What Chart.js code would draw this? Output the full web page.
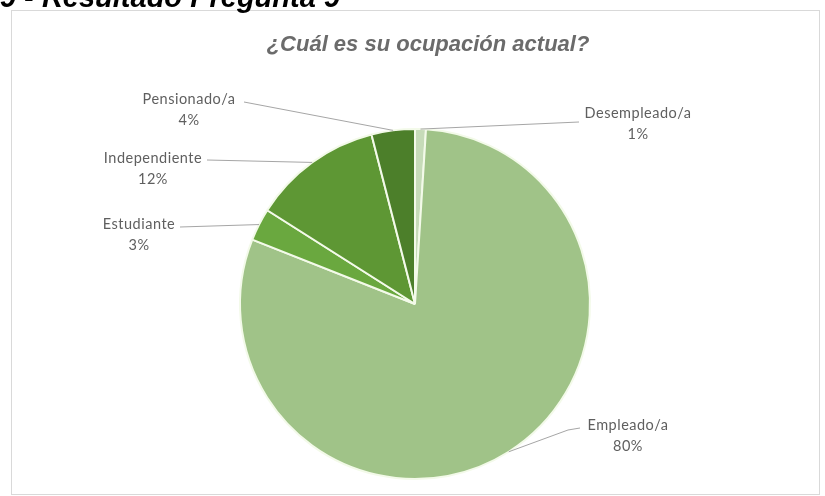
<!DOCTYPE html>
<html>
<head>
    <meta charset="utf-8" />
    <title>¿Cuál es su ocupación actual?</title>
    <script src="https://cdn.jsdelivr.net/npm/chart.js@4"></script>
    <style>
        html, body { margin: 0; padding: 0; background: #fff; }
        #wrap { position: relative; width: 825px; height: 496px; overflow: hidden; }
    </style>
</head>
<body>
    <div id="wrap">
        <canvas id="ocupacionChart" width="825" height="496"></canvas>
    </div>

    <script>
        // Data
        const categories = ['Desempleado/a', 'Empleado/a', 'Estudiante', 'Independiente', 'Pensionado/a'];
        const shares = [1, 80, 3, 12, 4];
        const pctLabels = ['1%', '80%', '3%', '12%', '4%'];
        const sliceColors = ['#c6dbb8', '#a0c388', '#6aa83f', '#5e9734', '#4c7f2a'];

        const chartTitle = '¿Cuál es su ocupación actual?';
        const caption = '9 - Resultado Pregunta 9';

        // where each data label sits (text centre of first line) and where its leader line leaves the text
        const labelLayout = [
            { x: 638, y: 113, from: [579, 122], bend: null },
            { x: 628, y: 425, from: [580, 428], bend: [568, 430] },
            { x: 139, y: 224, from: [180, 227], bend: null },
            { x: 153, y: 158, from: [207, 160], bend: null },
            { x: 189, y: 99, from: [244, 102], bend: null }
        ];

        // Draws the frame, caption, title and the labels with leader lines
        const decorPlugin = {
            id: 'decor',
            beforeDraw(chart) {
                const ctx = chart.ctx;
                ctx.save();
                ctx.fillStyle = '#fff';
                ctx.fillRect(0, 0, chart.width, chart.height);
                ctx.strokeStyle = '#d9d9d9';
                ctx.lineWidth = 1;
                ctx.strokeRect(11.5, 10.5, 808, 484);

                ctx.fillStyle = '#000';
                ctx.font = 'italic bold 29px "Liberation Sans", Arial, sans-serif';
                ctx.textAlign = 'left';
                ctx.textBaseline = 'alphabetic';
                ctx.fillText(caption, 0, 7);

                ctx.fillStyle = '#6b6b6b';
                ctx.font = 'italic bold 22px "Liberation Sans", Arial, sans-serif';
                ctx.textAlign = 'center';
                ctx.textBaseline = 'middle';
                ctx.fillText(chartTitle, 428, 45);
                ctx.restore();
            },
            afterDatasetsDraw(chart) {
                const ctx = chart.ctx;
                const arcs = chart.getDatasetMeta(0).data;
                ctx.save();
                arcs.forEach((arc, i) => {
                    const p = arc.getProps(['x', 'y', 'startAngle', 'endAngle', 'outerRadius'], true);
                    const mid = (p.startAngle + p.endAngle) / 2;
                    const ex = p.x + Math.cos(mid) * p.outerRadius;
                    const ey = p.y + Math.sin(mid) * p.outerRadius;
                    const lay = labelLayout[i];

                    ctx.strokeStyle = '#a6a6a6';
                    ctx.lineWidth = 1;
                    ctx.beginPath();
                    ctx.moveTo(lay.from[0], lay.from[1]);
                    if (lay.bend) ctx.lineTo(lay.bend[0], lay.bend[1]);
                    ctx.lineTo(ex, ey);
                    ctx.stroke();

                    ctx.fillStyle = '#5f5f5f';
                    ctx.font = '14.5px Lato, "Noto Sans", sans-serif';
                    ctx.letterSpacing = '0.5px';
                    ctx.textAlign = 'center';
                    ctx.textBaseline = 'middle';
                    ctx.fillText(categories[i], lay.x, lay.y);
                    ctx.fillText(pctLabels[i], lay.x, lay.y + 21);
                });
                ctx.restore();
            }
        };

        new Chart(document.getElementById('ocupacionChart').getContext('2d'), {
            type: 'pie',
            data: {
                labels: categories,
                datasets: [{
                    data: shares,
                    backgroundColor: sliceColors,
                    borderColor: '#f3fae9',
                    borderWidth: 2
                }]
            },
            options: {
                responsive: false,
                animation: false,
                layout: { padding: { left: 239, right: 234, top: 128, bottom: 16 } },
                plugins: {
                    legend: { display: false },
                    tooltip: { enabled: false }
                }
            },
            plugins: [decorPlugin]
        });
    </script>
</body>
</html>
